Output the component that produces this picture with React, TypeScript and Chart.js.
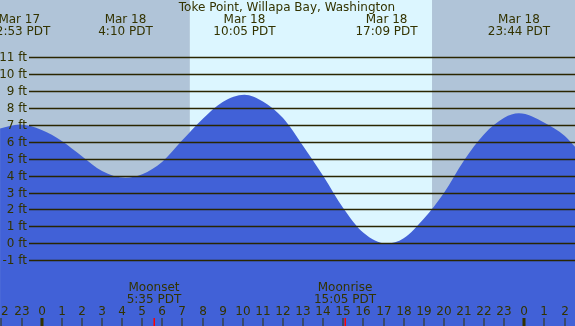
import { useEffect, useRef } from "react";
import { Chart, registerables } from "chart.js";

Chart.register(...registerables);

// ---- data ----
const TITLE = "Toke Point, Willapa Bay, Washington";

const tideHours = [
  -2.07, -1.1, 0, 1, 2, 3, 4.17, 5, 6, 7, 8, 9, 10.08, 11, 12, 13, 14, 15, 16,
  17.15, 18, 19, 20, 21, 22, 23, 23.73, 25, 26, 26.52,
];
const tideHeights = [
  6.78, 7.02, 6.7, 6.05, 5.15, 4.28, 3.88, 4.08, 4.82, 6.1, 7.35, 8.35, 8.78,
  8.38, 7.4, 5.75, 3.98, 2.07, 0.62, -0.02, 0.3, 1.45, 2.98, 4.9, 6.45, 7.42,
  7.68, 7.13, 6.36, 5.71,
];

const extremeHours = [-1.117, 4.167, 10.083, 17.15, 23.733];
const extremeDates = ["Mar 17", "Mar 18", "Mar 18", "Mar 18", "Mar 18"];
const extremeTimes = ["22:53 PDT", "4:10 PDT", "10:05 PDT", "17:09 PDT", "23:44 PDT"];

const sunriseHour = 7.37;
const sunsetHour = 19.41;

const moonHours = [5.583, 15.083];
const moonNames = ["Moonset", "Moonrise"];
const moonTimes = ["5:35 PDT", "15:05 PDT"];

const footTicks = [-1, 0, 1, 2, 3, 4, 5, 6, 7, 8, 9, 10, 11];
const hourTicks = [
  -2, -1, 0, 1, 2, 3, 4, 5, 6, 7, 8, 9, 10, 11, 12, 13, 14, 15, 16, 17, 18, 19,
  20, 21, 22, 23, 24, 25, 26,
];
const midnightHours = [0, 24];

// ---- view ----
const X_MIN = -2.074;
const X_MAX = 26.52;
const Y_MIN = -4.888;
const Y_MAX = 14.38;

const NIGHT = "#b0c4d8";
const DAY = "#dcf6ff";
const WATER = "#4161d7";
const INK = "#333300";
const LINE = "#2a2600";
const FONT = "12px 'DejaVu Sans', sans-serif";

const tidePlugin = {
  id: "tideDecor",
  beforeDatasetsDraw(chart: any) {
    const { ctx, chartArea, scales } = chart;
    const { top, bottom, left, right } = chartArea;
    const x = scales.x;
    const sr = x.getPixelForValue(sunriseHour);
    const ss = x.getPixelForValue(sunsetHour);
    ctx.save();
    ctx.fillStyle = NIGHT;
    ctx.fillRect(left, top, sr - left, bottom - top);
    ctx.fillStyle = DAY;
    ctx.fillRect(sr, top, ss - sr, bottom - top);
    ctx.fillStyle = NIGHT;
    ctx.fillRect(ss, top, right - ss, bottom - top);
    ctx.restore();
  },
  afterDatasetsDraw(chart: any) {
    const { ctx, chartArea, scales } = chart;
    const { right, bottom } = chartArea;
    const x = scales.x;
    const y = scales.y;
    ctx.save();
    // grid lines
    ctx.strokeStyle = LINE;
    ctx.lineWidth = 1.4;
    footTicks.forEach((v) => {
      const py = Math.round(y.getPixelForValue(v)) + 0.5;
      ctx.beginPath();
      ctx.moveTo(29, py);
      ctx.lineTo(right, py);
      ctx.stroke();
    });
    ctx.fillStyle = INK;
    ctx.font = FONT;
    ctx.textBaseline = "middle";
    ctx.textAlign = "right";
    footTicks.forEach((v) => {
      const py = Math.round(y.getPixelForValue(v)) + 0.5;
      ctx.fillText(`${v} ft`, 27, py);
    });
    // title & extremes
    ctx.textAlign = "center";
    ctx.fillText(TITLE, 287, 7.5);
    extremeHours.forEach((h, i) => {
      const px = x.getPixelForValue(h);
      ctx.fillText(extremeDates[i], px, 19.5);
      ctx.fillText(extremeTimes[i], px, 31.5);
    });
    // moon
    moonHours.forEach((h, i) => {
      const px = x.getPixelForValue(h);
      ctx.fillText(moonNames[i], px, 287.5);
      ctx.fillText(moonTimes[i], px, 299.5);
    });
    // hour ticks
    hourTicks.forEach((h) => {
      const px = Math.round(x.getPixelForValue(h));
      ctx.fillStyle = INK;
      ctx.fillText(String(((h % 24) + 24) % 24), px, 311.5);
      ctx.fillRect(px - 0.5, 318, 1, bottom - 318);
    });
    midnightHours.forEach((h) => {
      const px = Math.round(x.getPixelForValue(h));
      ctx.fillStyle = INK;
      ctx.fillRect(px - 1.5, 318, 3, bottom - 318);
    });
    moonHours.forEach((h) => {
      const px = Math.round(x.getPixelForValue(h));
      ctx.fillStyle = "#ff0000";
      ctx.fillRect(px - 0.5, 318, 1.5, bottom - 318);
    });
    ctx.restore();
  },
};

export default function App() {
  const ref = useRef<HTMLCanvasElement | null>(null);
  useEffect(() => {
    document.body.style.margin = "0";
    if (!ref.current) return;
    const points = tideHours.map((h, i) => ({ x: h, y: tideHeights[i] }));
    const chart = new Chart(ref.current, {
      type: "line",
      data: {
        datasets: [
          {
            data: points,
            fill: "start",
            backgroundColor: WATER,
            borderWidth: 0,
            borderColor: WATER,
            pointRadius: 0,
            cubicInterpolationMode: "monotone",
          },
        ],
      },
      options: {
        responsive: false,
        animation: false,
        devicePixelRatio: 1,
        layout: { padding: 0 },
        plugins: { legend: { display: false }, tooltip: { enabled: false }, title: { display: false } },
        scales: {
          x: { type: "linear", min: X_MIN, max: X_MAX, display: false },
          y: { type: "linear", min: Y_MIN, max: Y_MAX, display: false },
        },
      },
      plugins: [tidePlugin],
    } as any);
    return () => chart.destroy();
  }, []);
  return (
    <div style={{ width: 575, height: 326 }}>
      <canvas ref={ref} width={575} height={326} />
    </div>
  );
}
